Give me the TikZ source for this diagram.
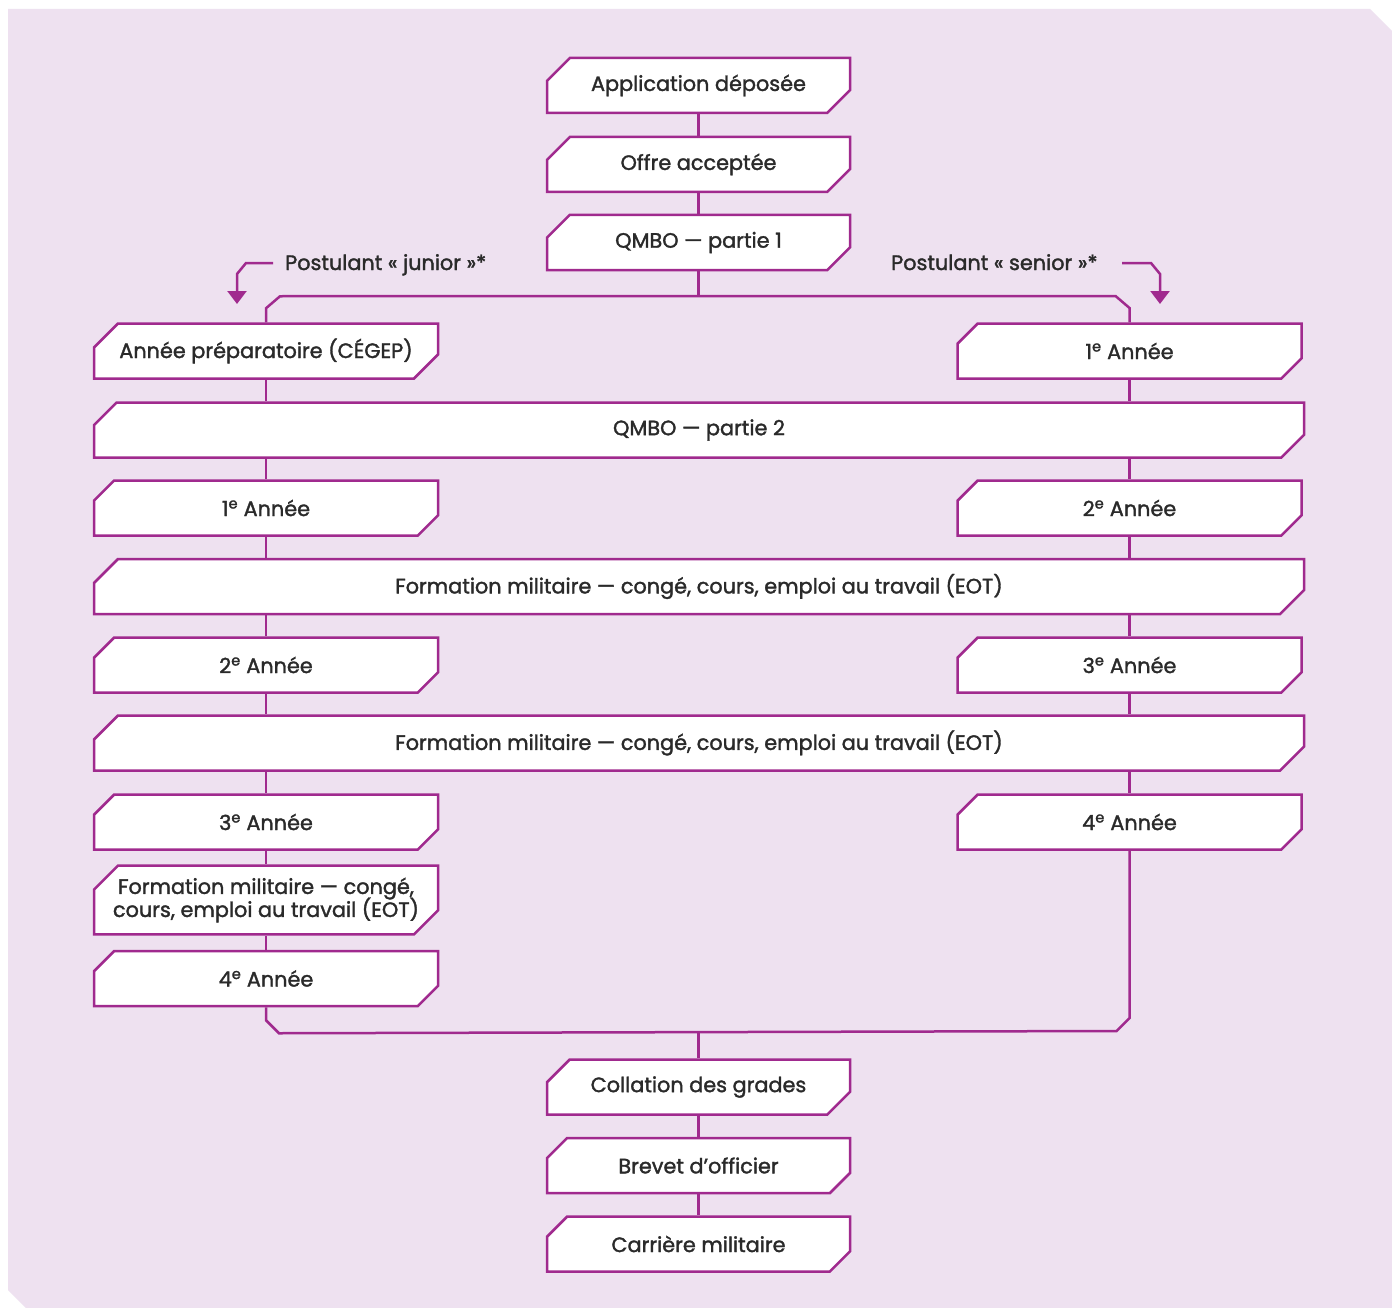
\documentclass[tikz,border=0pt]{standalone}
\usepackage{fontspec}
\setmainfont{Poppins}[FakeBold=1.6]
\usetikzlibrary{shapes.misc,arrows.meta,calc}
\definecolor{bgc}{HTML}{EEE1F0}
\definecolor{pur}{HTML}{A02A8E}
\definecolor{txt}{HTML}{2A2A2A}
\begin{document}
\begin{tikzpicture}[x=1pt,y=-1pt,
  every node/.style={font=\fontsize{20.8}{24}\selectfont, text=txt},
  box/.style={shape=chamfered rectangle, chamfered rectangle xsep=12pt, chamfered rectangle ysep=12pt,
    chamfered rectangle corners={north west,south east}, draw=pur, line width=2.5pt, fill=white,
    inner sep=0pt, minimum height=55pt, align=center},
  cbox/.style={box, minimum width=303pt},
  lbox/.style={box, minimum width=344pt},
  wbox/.style={box, minimum width=1210pt},
  conn/.style={draw=pur, line width=2.5pt},
  arr/.style={draw=pur, line width=2.5pt, -{Triangle[width=19pt,length=13pt]}},
  lab/.style={inner sep=0pt, anchor=base west}]
\useasboundingbox (0,0) rectangle (1392,1308);
\fill[white] (0,0) rectangle (1392,1308);
\fill[bgc] (8,9) -- (1370,9) -- (1392,31) -- (1392,1308) -- (26,1308) -- (8,1290) -- cycle;

% central top
\node[cbox] (app) at (698.5,85.5) {Application déposée};
\node[cbox] (off) at (698.5,164.5) {Offre acceptée};
\node[cbox] (q1) at (698.5,242.5) {QMBO — partie 1};

% left column
\node[lbox] (prep) at (266,351) {Année préparatoire (CÉGEP)};
\node[lbox] (l1) at (266,508) {1\textsuperscript{e} Année};
\node[lbox] (l2) at (266,665) {2\textsuperscript{e} Année};
\node[lbox] (l3) at (266,822) {3\textsuperscript{e} Année};
\node[lbox] (lf) at (266,900) {Formation militaire — congé,\\[-3pt] cours, emploi au travail (EOT)};
\node[lbox] (l4) at (266,978.5) {4\textsuperscript{e} Année};

% right column
\node[lbox] (r1) at (1129.5,351) {1\textsuperscript{e} Année};
\node[lbox] (r2) at (1129.5,508) {2\textsuperscript{e} Année};
\node[lbox] (r3) at (1129.5,665) {3\textsuperscript{e} Année};
\node[lbox] (r4) at (1129.5,822) {4\textsuperscript{e} Année};

% wide
\node[wbox] (q2) at (699,430) {QMBO — partie 2};
\node[wbox] (f1) at (699,586.5) {Formation militaire — congé, cours, emploi au travail (EOT)};
\node[wbox] (f2) at (699,743) {Formation militaire — congé, cours, emploi au travail (EOT)};

% bottom
\node[cbox] (col) at (698.5,1087) {Collation des grades};
\node[cbox] (brev) at (698.5,1165.5) {Brevet d\symbol{39}officier};
\node[cbox] (car) at (698.5,1244) {Carrière militaire};

% labels
\node[lab] (jun) at (285,270) {Postulant « junior »*};
\node[lab] (sen) at (891,270) {Postulant « senior »*};

% connectors central
\draw[conn] (app.south) -- (off.north);
\draw[conn] (off.south) -- (q1.north);
\coordinate (br) at (698.5,296);
\draw[conn] (q1.south) -- (br);
\draw[conn] (prep.north) -- ++(0,-14) -- ++(14,-12) -- ($(r1.north |- br)+(-14,0)$) -- ++(14,12) -- (r1.north);

% left column connectors
\draw[conn] (prep.south) -- (prep.south |- q2.north);
\draw[conn] (prep.south |- q2.south) -- (l1.north);
\draw[conn] (l1.south) -- (l1.south |- f1.north);
\draw[conn] (l1.south |- f1.south) -- (l2.north);
\draw[conn] (l2.south) -- (l2.south |- f2.north);
\draw[conn] (l2.south |- f2.south) -- (l3.north);
\draw[conn] (l3.south) -- (lf.north);
\draw[conn] (lf.south) -- (l4.north);

% right column connectors
\draw[conn] (r1.south) -- (r1.south |- q2.north);
\draw[conn] (r1.south |- q2.south) -- (r2.north);
\draw[conn] (r2.south) -- (r2.south |- f1.north);
\draw[conn] (r2.south |- f1.south) -- (r3.north);
\draw[conn] (r3.south) -- (r3.south |- f2.north);
\draw[conn] (r3.south |- f2.south) -- (r4.north);

% merge
\coordinate (mg) at (698.5,1031);
\draw[conn] (l4.south) -- ++(0,13) -- ++(13,13) -- ($(r4.south |- mg)+(-13,0)$) -- ++(13,-13) -- (r4.south);
\draw[conn] (mg) -- (col.north);
\draw[conn] (col.south) -- (brev.north);
\draw[conn] (brev.south) -- (car.north);

% arrows
\coordinate (ja) at (273,263);
\coordinate (jb) at (237,304);
\draw[arr] (ja) -- (246,263) -- (237,274) -- (jb);
\coordinate (sa) at (1122,263);
\coordinate (sb) at (1160,304);
\draw[arr] (sa) -- (1151,263) -- (1160,274) -- (sb);
\end{tikzpicture}
\end{document}
